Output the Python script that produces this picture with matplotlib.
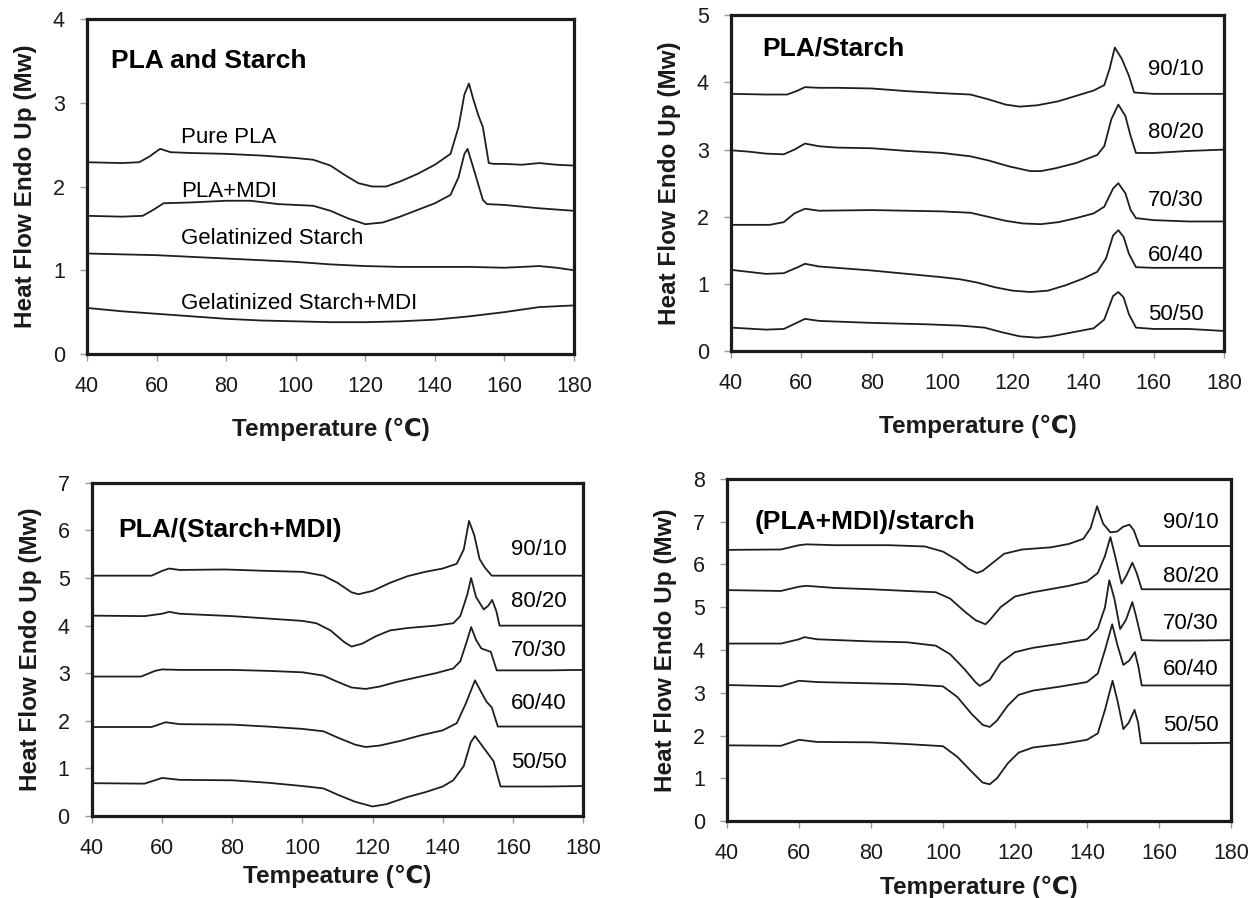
import numpy as np
import matplotlib.pyplot as plt

plt.rcParams['font.family'] = ['Liberation Sans', 'DejaVu Sans']

# ---- panel 1 : PLA and starch ----
t_pure_pla = [40, 50, 55, 58, 61, 64, 70, 80, 90, 100, 105, 110, 114, 118, 122, 126, 130, 135, 140,
              144.5, 146.8, 148.5, 149.8, 151, 152.5, 153.8, 155.5, 157, 160, 165, 170, 175, 180]
hf_pure_pla = [2.29, 2.28, 2.29, 2.36, 2.45, 2.41, 2.40, 2.39, 2.37, 2.34, 2.32, 2.25, 2.14, 2.04, 2.00, 2.00,
               2.06, 2.15, 2.26, 2.39, 2.71, 3.10, 3.23, 3.05, 2.85, 2.71, 2.28, 2.27, 2.27, 2.26, 2.28, 2.26, 2.25]
t_pla_mdi = [40, 50, 56, 59, 62, 70, 80, 87, 95, 105, 110, 115, 120, 125, 130, 135, 140,
             144.5, 146.8, 148.5, 149.4, 151.3, 153.8, 155, 160, 170, 180]
hf_pla_mdi = [1.65, 1.64, 1.65, 1.72, 1.80, 1.81, 1.83, 1.83, 1.79, 1.77, 1.71, 1.62, 1.55, 1.57, 1.64, 1.72, 1.80,
              1.90, 2.11, 2.39, 2.45, 2.19, 1.84, 1.79, 1.78, 1.74, 1.71]
t_gel = [40, 50, 60, 70, 80, 90, 100, 110, 120, 130, 140, 150, 160, 170, 175, 180]
hf_gel = [1.20, 1.19, 1.18, 1.16, 1.14, 1.12, 1.10, 1.07, 1.05, 1.04, 1.04, 1.04, 1.03, 1.05, 1.03, 1.00]
t_gel_mdi = [40, 50, 60, 70, 80, 90, 100, 110, 120, 130, 140, 150, 160, 165, 170, 180]
hf_gel_mdi = [0.55, 0.51, 0.48, 0.45, 0.42, 0.40, 0.39, 0.38, 0.38, 0.39, 0.41, 0.45, 0.50, 0.53, 0.56, 0.58]

# ---- panel 2 : PLA/Starch ----
t_s90 = [40, 50, 56, 59, 61, 65, 70, 80, 90, 100, 108, 113, 118, 122, 127, 133, 138, 143, 146, 147.5, 149,
         151, 153, 154.5, 160, 170, 180]
hf_s90 = [3.83, 3.82, 3.82, 3.88, 3.93, 3.92, 3.92, 3.91, 3.87, 3.84, 3.82, 3.75, 3.67, 3.64, 3.66, 3.72, 3.80,
          3.88, 3.96, 4.20, 4.52, 4.35, 4.10, 3.85, 3.83, 3.83, 3.83]
t_s80 = [40, 45, 50, 55, 58, 61, 65, 70, 80, 90, 100, 108, 113, 119, 125, 128, 132, 138, 144, 146, 148, 150,
         152, 153.5, 155, 160, 170, 180]
hf_s80 = [2.99, 2.97, 2.94, 2.93, 3.00, 3.09, 3.05, 3.03, 3.02, 2.98, 2.95, 2.90, 2.84, 2.75, 2.68, 2.68, 2.72,
          2.80, 2.92, 3.05, 3.45, 3.67, 3.50, 3.20, 2.95, 2.95, 2.98, 3.00]
t_s70 = [40, 51, 55, 58, 61, 65, 80, 90, 100, 108, 113, 118, 123, 128, 133, 138, 143, 146, 148.5, 150, 152,
         153.5, 155, 160, 170, 180]
hf_s70 = [1.88, 1.88, 1.92, 2.05, 2.12, 2.09, 2.10, 2.09, 2.08, 2.06, 2.00, 1.94, 1.90, 1.89, 1.92, 1.98, 2.05,
          2.15, 2.42, 2.50, 2.35, 2.10, 1.98, 1.95, 1.93, 1.93]
t_s60 = [40, 50, 55, 59, 61, 65, 70, 80, 90, 100, 105, 110, 115, 120, 125, 130, 135, 140, 144, 146.5, 148.5,
         150, 151.5, 153, 155, 160, 170, 180]
hf_s60 = [1.21, 1.15, 1.16, 1.25, 1.30, 1.26, 1.24, 1.20, 1.15, 1.10, 1.07, 1.02, 0.95, 0.90, 0.88, 0.90, 0.98,
          1.08, 1.18, 1.38, 1.72, 1.80, 1.70, 1.45, 1.25, 1.24, 1.24, 1.24]
t_s50 = [40, 50, 55, 59, 61, 65, 80, 95, 105, 112, 117, 122, 127, 131, 137, 143, 146, 148.5, 150, 151.5, 153,
         155, 160, 170, 180]
hf_s50 = [0.35, 0.32, 0.33, 0.43, 0.48, 0.45, 0.42, 0.40, 0.38, 0.35, 0.28, 0.22, 0.20, 0.22, 0.28, 0.34, 0.47,
          0.82, 0.88, 0.80, 0.55, 0.35, 0.33, 0.33, 0.30]

# ---- panel 3 : PLA/(Starch+MDI) ----
t_m90 = [40, 57, 60, 62, 65, 78, 90, 100, 106, 110, 114, 116, 120, 125, 130, 135, 140, 144, 146, 147.5, 149,
         150.5, 152, 154, 160, 170, 180]
hf_m90 = [5.05, 5.05, 5.15, 5.20, 5.17, 5.18, 5.15, 5.13, 5.05, 4.90, 4.70, 4.66, 4.73, 4.90, 5.04, 5.13, 5.20,
          5.30, 5.60, 6.20, 5.90, 5.40, 5.22, 5.05, 5.05, 5.05, 5.05]
t_m80 = [40, 55, 60, 62, 65, 80, 90, 100, 104, 108, 112, 114, 117, 121, 125, 130, 138, 143, 145, 147, 148.1,
         149.5, 151.7, 153, 154.1, 155.3, 156.2, 160, 170, 180]
hf_m80 = [4.21, 4.20, 4.25, 4.29, 4.25, 4.20, 4.15, 4.10, 4.05, 3.90, 3.65, 3.56, 3.62, 3.78, 3.90, 3.95, 4.00,
          4.05, 4.20, 4.65, 5.00, 4.60, 4.34, 4.42, 4.54, 4.30, 4.00, 4.00, 4.00, 4.00]
t_m70 = [40, 54, 58, 60, 65, 80, 90, 100, 106, 110, 114, 118, 122, 127, 133, 138, 143, 145, 147, 148.1, 149.5,
         151, 153.7, 155.4, 160, 170, 180]
hf_m70 = [2.93, 2.93, 3.05, 3.08, 3.07, 3.07, 3.05, 3.02, 2.95, 2.82, 2.70, 2.67, 2.72, 2.82, 2.92, 3.00, 3.10,
          3.25, 3.70, 3.97, 3.70, 3.52, 3.45, 3.06, 3.06, 3.06, 3.07]
t_m60 = [40, 57, 61, 65, 80, 90, 100, 106, 110, 115, 118, 122, 128, 134, 140, 144, 146.5, 149.2, 151, 152.5,
         154, 155.7, 160, 170, 180]
hf_m60 = [1.87, 1.87, 1.97, 1.93, 1.92, 1.88, 1.83, 1.78, 1.65, 1.50, 1.45, 1.48, 1.58, 1.70, 1.80, 1.95, 2.35,
          2.85, 2.60, 2.40, 2.28, 1.88, 1.88, 1.88, 1.88]
t_m50 = [40, 55, 60, 65, 80, 90, 100, 106, 110, 115, 120, 124, 130, 135, 140, 143, 146, 148, 149.2, 151, 153,
         154.5, 156.5, 160, 170, 180]
hf_m50 = [0.69, 0.68, 0.80, 0.76, 0.75, 0.70, 0.63, 0.58, 0.45, 0.30, 0.20, 0.25, 0.40, 0.50, 0.62, 0.75, 1.05,
          1.55, 1.68, 1.50, 1.30, 1.15, 0.62, 0.62, 0.62, 0.63]

# ---- panel 4 : (PLA+MDI)/starch ----
t_p90 = [40, 55, 60, 62, 70, 85, 95, 100, 104, 107, 109.4, 111, 114, 117, 122, 130, 135, 139, 141, 142.8,
         144.5, 146.5, 148.4, 150, 151.8, 153, 154.6, 160, 170, 180]
hf_p90 = [6.34, 6.35, 6.45, 6.47, 6.45, 6.45, 6.42, 6.30, 6.10, 5.90, 5.80, 5.85, 6.05, 6.25, 6.35, 6.40, 6.48,
          6.60, 6.85, 7.36, 6.95, 6.75, 6.77, 6.88, 6.93, 6.80, 6.43, 6.43, 6.43, 6.43]
t_p80 = [40, 55, 60, 62, 70, 80, 90, 98, 102, 106, 109, 111.8, 113, 116, 120, 125, 135, 140, 143, 145, 146.5,
         147.8, 149.6, 151, 152.6, 153.8, 155.2, 160, 170, 180]
hf_p80 = [5.40, 5.38, 5.48, 5.50, 5.45, 5.42, 5.38, 5.35, 5.20, 4.90, 4.70, 4.60, 4.70, 5.00, 5.25, 5.35, 5.50,
          5.60, 5.80, 6.20, 6.64, 6.20, 5.55, 5.75, 6.04, 5.80, 5.42, 5.42, 5.42, 5.42]
t_p70 = [40, 55, 60, 61.5, 65, 80, 90, 98, 102, 106, 109, 110.2, 113, 116, 120, 125, 133, 140, 143, 145, 146.2,
         147.6, 149.2, 150.8, 152.6, 153.6, 155.2, 160, 170, 180]
hf_p70 = [4.15, 4.15, 4.25, 4.30, 4.25, 4.20, 4.18, 4.10, 3.90, 3.55, 3.25, 3.16, 3.30, 3.70, 3.95, 4.05, 4.15,
          4.25, 4.50, 5.00, 5.63, 5.20, 4.49, 4.70, 5.12, 4.80, 4.23, 4.22, 4.22, 4.23]
t_p60 = [40, 55, 60, 65, 80, 90, 100, 104, 108, 111, 113, 115, 118, 121, 125, 133, 140, 143, 145, 147, 148.5,
         150.1, 151.7, 153.3, 154.3, 155.2, 160, 170, 180]
hf_p60 = [3.18, 3.15, 3.28, 3.25, 3.22, 3.20, 3.15, 2.90, 2.50, 2.25, 2.20, 2.35, 2.70, 2.95, 3.05, 3.15, 3.25,
          3.45, 4.00, 4.60, 4.10, 3.65, 3.75, 3.95, 3.60, 3.17, 3.17, 3.17, 3.17]
t_p50 = [40, 55, 60, 65, 80, 90, 100, 104, 108, 111, 113, 115, 118, 121, 125, 133, 140, 143, 145, 147.1, 148.5,
         150.1, 151.6, 153.2, 154.2, 155, 160, 170, 180]
hf_p50 = [1.77, 1.76, 1.90, 1.85, 1.84, 1.80, 1.75, 1.50, 1.15, 0.90, 0.86, 1.00, 1.35, 1.60, 1.72, 1.80, 1.90,
          2.05, 2.60, 3.28, 2.80, 2.15, 2.30, 2.60, 2.30, 1.82, 1.82, 1.82, 1.83]

ratio_labels = ['90/10', '80/20', '70/30', '60/40', '50/50']

line_col = '#1e1e1e'
lw = 1.3


def style_axes(ax, ymax, xlabel, xpad):
    ax.set_xlim(40, 180)
    ax.set_ylim(0, ymax)
    ax.set_xticks(np.arange(40, 181, 20))
    ax.set_yticks(np.arange(0, ymax + 1, 1))
    for s in ax.spines.values():
        s.set_linewidth(2.3)
        s.set_color('#1a1a1a')
    ax.tick_params(direction='out', length=5, width=1, color='#9a9a9a',
                   labelcolor='#1a1a1a', labelsize=15.5, pad=11)
    ax.set_xlabel(xlabel, fontsize=17.5, fontweight='bold', labelpad=xpad, color='#1a1a1a')
    ax.set_ylabel('Heat Flow Endo Up (Mw)', fontsize=17.5, fontweight='bold', labelpad=11,
                  color='#1a1a1a')


fig = plt.figure(figsize=(12.56, 8.98), dpi=100)

# panel 1
ax1 = fig.add_axes([0.0693, 0.6058, 0.3877, 0.373])
ax1.plot(t_pure_pla, hf_pure_pla, color=line_col, lw=lw)
ax1.plot(t_pla_mdi, hf_pla_mdi, color=line_col, lw=lw)
ax1.plot(t_gel, hf_gel, color=line_col, lw=lw)
ax1.plot(t_gel_mdi, hf_gel_mdi, color=line_col, lw=lw)
ax1.text(67, 2.59, 'Pure PLA', fontsize=16, va='center')
ax1.text(67, 1.94, 'PLA+MDI', fontsize=16, va='center')
ax1.text(67, 1.38, 'Gelatinized Starch', fontsize=16, va='center')
ax1.text(67, 0.60, 'Gelatinized Starch+MDI', fontsize=16, va='center')
ax1.text(47, 3.5, 'PLA and Starch', fontsize=19, fontweight='bold', va='center')
style_axes(ax1, 4, 'Temperature (℃)', 15)

# panel 2
ax2 = fig.add_axes([0.582, 0.609, 0.3925, 0.374])
for t, hf in zip([t_s90, t_s80, t_s70, t_s60, t_s50], [hf_s90, hf_s80, hf_s70, hf_s60, hf_s50]):
    ax2.plot(t, hf, color=line_col, lw=lw)
for lab, yy in zip(ratio_labels, [4.2, 3.26, 2.24, 1.42, 0.55]):
    ax2.text(158.5, yy, lab, fontsize=16, va='center')
ax2.text(49, 4.5, 'PLA/Starch', fontsize=19, fontweight='bold', va='center')
style_axes(ax2, 5, 'Temperature (℃)', 15)

# panel 3
ax3 = fig.add_axes([0.0732, 0.0913, 0.391, 0.371])
for t, hf in zip([t_m90, t_m80, t_m70, t_m60, t_m50], [hf_m90, hf_m80, hf_m70, hf_m60, hf_m50]):
    ax3.plot(t, hf, color=line_col, lw=lw)
for lab, yy in zip(ratio_labels, [5.59, 4.50, 3.48, 2.37, 1.12]):
    ax3.text(159.4, yy, lab, fontsize=16, va='center')
ax3.text(47.4, 6.0, 'PLA/(Starch+MDI)', fontsize=19, fontweight='bold', va='center')
style_axes(ax3, 7, 'Tempeature (℃)', 4)

# panel 4
ax4 = fig.add_axes([0.5788, 0.0857, 0.4013, 0.381])
for t, hf in zip([t_p90, t_p80, t_p70, t_p60, t_p50], [hf_p90, hf_p80, hf_p70, hf_p60, hf_p50]):
    ax4.plot(t, hf, color=line_col, lw=lw)
for lab, yy in zip(ratio_labels, [6.98, 5.71, 4.61, 3.55, 2.24]):
    ax4.text(161.2, yy, lab, fontsize=16, va='center')
ax4.text(47.7, 7.0, '(PLA+MDI)/starch', fontsize=19, fontweight='bold', va='center')
style_axes(ax4, 8, 'Temperature (℃)', 8)

plt.savefig('out.png', dpi=100)
